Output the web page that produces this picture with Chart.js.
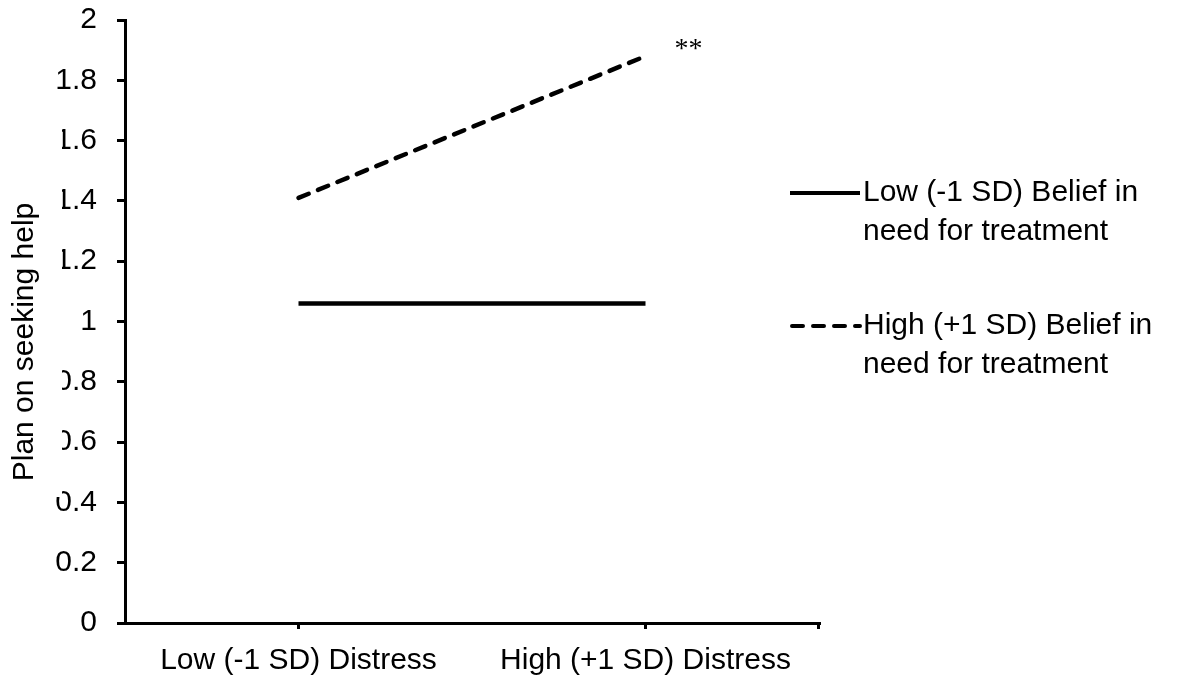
<!DOCTYPE html>
<html>
<head>
<meta charset="utf-8">
<script src="https://cdn.jsdelivr.net/npm/chart.js@4/dist/chart.umd.min.js"></script>
<style>
  html, body { margin: 0; padding: 0; background: #fff; }
  #wrap { width: 1180px; height: 682px; position: relative; }
</style>
</head>
<body>
<div id="wrap"><canvas id="c"></canvas></div>
<script>
// Simple-slopes plot: help-seeking plans by distress level, split by belief in need for treatment
const categories = ['Low (-1 SD) Distress', 'High (+1 SD) Distress'];
const lowBelief = [1.06, 1.06];
const highBelief = [1.41, 1.88];
const seriesNames = [
  ['Low (-1 SD) Belief in', 'need for treatment'],
  ['High (+1 SD) Belief in', 'need for treatment']
];
const yTickLabels = ['0', '0.2', '0.4', '0.6', '0.8', '1', '1.2', '1.4', '1.6', '1.8', '2'];
const yTitle = 'Plan on seeking help';
const significance = '**';

const FONT = '"Liberation Sans", Arial, sans-serif';
const TEXT_SIZE = 30;

// Legend drawn at the right, each entry with a sample stroke and two text lines
const sideLegend = {
  id: 'sideLegend',
  afterDraw(chart) {
    const ctx = chart.ctx;
    const rows = [193, 326];
    chart.data.datasets.forEach((ds, i) => {
      const y = rows[i];
      ctx.save();
      ctx.strokeStyle = ds.borderColor;
      ctx.lineWidth = 4;
      ctx.lineCap = ds.borderDash ? 'round' : 'butt';
      ctx.setLineDash(ds.borderDash || []);
      ctx.beginPath();
      ctx.moveTo(ds.borderDash ? 792 : 790, y);
      ctx.lineTo(860, y);
      ctx.stroke();
      ctx.setLineDash([]);
      ctx.fillStyle = '#000';
      ctx.font = TEXT_SIZE + 'px ' + FONT;
      ctx.textAlign = 'left';
      ctx.textBaseline = 'middle';
      seriesNames[i].forEach((line, k) => ctx.fillText(line, 863, y + k * 39));
      ctx.restore();
    });
  }
};

// Axis title on a white box, plus the closing tick at the end of the category axis
const axisExtras = {
  id: 'axisExtras',
  afterDraw(chart) {
    const ctx = chart.ctx;
    const area = chart.chartArea;
    ctx.save();
    ctx.strokeStyle = '#000';
    ctx.lineWidth = 3;
    ctx.beginPath();
    ctx.moveTo(area.right - 0.5, area.bottom);
    ctx.lineTo(area.right - 0.5, area.bottom + 6);
    ctx.stroke();

    ctx.fillStyle = '#fff';
    ctx.fillRect(0, 118, 62, 379);
    ctx.translate(25, 342);
    ctx.rotate(-Math.PI / 2);
    ctx.fillStyle = '#000';
    ctx.font = TEXT_SIZE + 'px ' + FONT;
    ctx.textAlign = 'center';
    ctx.textBaseline = 'middle';
    ctx.fillText(yTitle, 0, 0);
    ctx.restore();
  }
};

// Significance marker next to the high-distress end of the dashed series
const sigMark = {
  id: 'sigMark',
  afterDatasetsDraw(chart) {
    const pt = chart.getDatasetMeta(1).data[1];
    const ctx = chart.ctx;
    ctx.save();
    ctx.fillStyle = '#000';
    ctx.font = '28px "Liberation Serif", "Times New Roman", serif';
    ctx.textAlign = 'left';
    ctx.textBaseline = 'alphabetic';
    ctx.fillText(significance, pt.x + 29, pt.y + 1);
    ctx.restore();
  }
};

new Chart(document.getElementById('c'), {
  type: 'line',
  data: {
    labels: categories,
    datasets: [
      {
        label: seriesNames[0].join(' '),
        data: lowBelief,
        borderColor: '#000',
        borderWidth: 4.5,
        borderCapStyle: 'butt',
        pointRadius: 0,
        tension: 0
      },
      {
        label: seriesNames[1].join(' '),
        data: highBelief,
        borderColor: '#000',
        borderWidth: 4.5,
        borderDash: [11, 10],
        borderCapStyle: 'round',
        pointRadius: 0,
        tension: 0
      }
    ]
  },
  options: {
    responsive: true,
    maintainAspectRatio: false,
    animation: false,
    events: [],
    layout: { padding: { left: 0, top: 20, right: 361, bottom: 0 } },
    plugins: {
      legend: { display: false },
      tooltip: { enabled: false }
    },
    scales: {
      x: {
        type: 'category',
        offset: true,
        border: { display: true, color: '#000', width: 3 },
        grid: {
          display: true,
          drawOnChartArea: false,
          drawTicks: true,
          tickLength: 6,
          color: '#000',
          lineWidth: 3,
          offset: false
        },
        ticks: {
          color: '#000',
          font: { family: FONT, size: TEXT_SIZE },
          padding: 14,
          maxRotation: 0,
          autoSkip: false
        },
        afterFit(scale) {
          scale.height = 59;
          scale.paddingLeft = 0;
          scale.paddingRight = 0;
        }
      },
      y: {
        min: 0,
        max: 2,
        border: { display: true, color: '#000', width: 3 },
        grid: {
          display: true,
          drawOnChartArea: false,
          drawTicks: true,
          tickLength: 8,
          color: '#000',
          lineWidth: 3
        },
        ticks: {
          stepSize: 0.2,
          color: '#000',
          font: { family: FONT, size: TEXT_SIZE },
          padding: 20,
          callback: (v, i) => yTickLabels[i]
        },
        afterFit(scale) {
          scale.width = 125;
          scale.paddingTop = 0;
          scale.paddingBottom = 0;
        }
      }
    }
  },
  plugins: [sideLegend, axisExtras, sigMark]
});
</script>
</body>
</html>
